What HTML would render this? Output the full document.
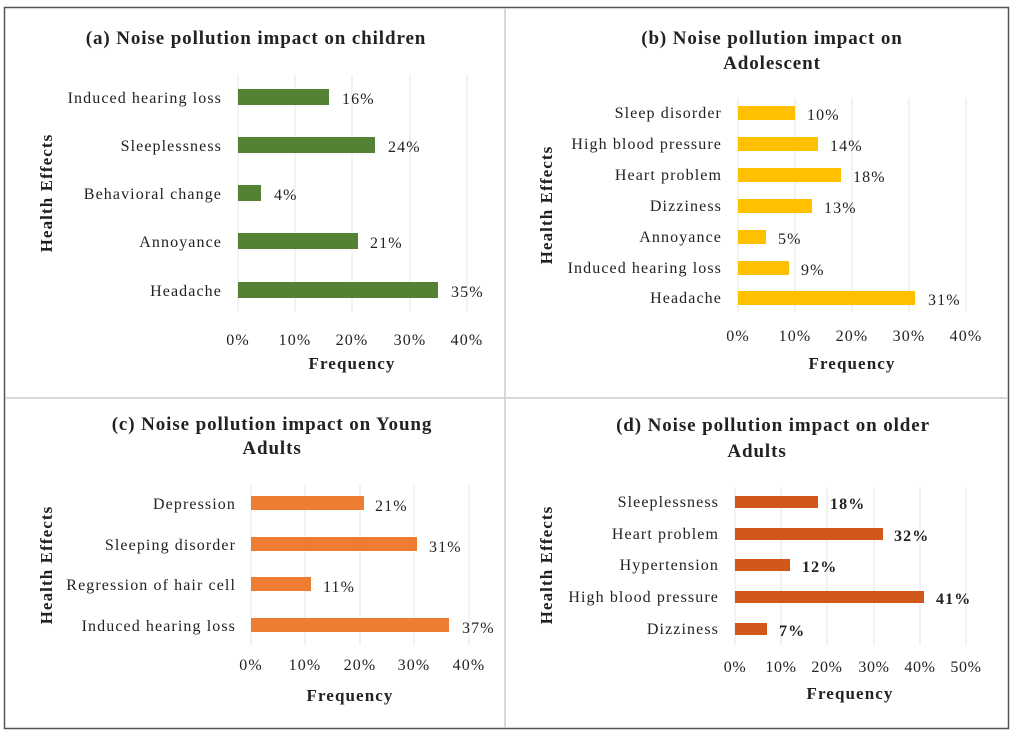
<!DOCTYPE html>
<html><head><style>body{margin:0;background:#fff}svg{display:block}text{font-family:"Liberation Serif",serif;fill:#222}</style></head><body>
<svg width="1013" height="739" xmlns="http://www.w3.org/2000/svg">
<rect x="0" y="0" width="1013" height="739" fill="#fff"/>
<rect x="4.5" y="7.5" width="1004" height="721" fill="none" stroke="#555" stroke-width="1.5"/>
<line x1="505" y1="8" x2="505" y2="728" stroke="#ccc" stroke-width="1.5"/>
<line x1="5" y1="398" x2="1008" y2="398" stroke="#ccc" stroke-width="1.5"/>
<g id="a" font-size="16" letter-spacing="1.1">
<text x="256" y="44" font-size="19" letter-spacing="0.9" font-weight="bold" text-anchor="middle">(a) Noise pollution  impact on children</text>
<g stroke="#e4e4e4"><line x1="238" y1="75" x2="238" y2="312"/><line x1="295" y1="75" x2="295" y2="312"/><line x1="352" y1="75" x2="352" y2="312"/><line x1="410" y1="75" x2="410" y2="312"/><line x1="467" y1="75" x2="467" y2="312"/></g>
<g fill="#548235"><rect x="238" y="89" width="91" height="16"/><rect x="238" y="137" width="137" height="16"/><rect x="238" y="185" width="23" height="16"/><rect x="238" y="233" width="120" height="16"/><rect x="238" y="282" width="200" height="16"/></g>
<g text-anchor="end"><text x="222" y="103">Induced hearing loss</text><text x="222" y="151">Sleeplessness</text><text x="222" y="199">Behavioral change</text><text x="222" y="247">Annoyance</text><text x="222" y="296">Headache</text></g>
<text x="342" y="104">16%</text><text x="388" y="152">24%</text><text x="274" y="200">4%</text><text x="370" y="248">21%</text><text x="451" y="297">35%</text>
<g text-anchor="middle"><text x="238" y="345">0%</text><text x="295" y="345">10%</text><text x="352" y="345">20%</text><text x="410" y="345">30%</text><text x="467" y="345">40%</text></g>
<text x="352" y="369" font-weight="bold" font-size="17" text-anchor="middle">Frequency</text>
<text transform="translate(52,193) rotate(-90)" font-weight="bold" font-size="17" text-anchor="middle">Health Effects</text>
</g>
<g id="b" font-size="16" letter-spacing="1.1">
<text x="772" y="44" font-size="19" letter-spacing="0.9" font-weight="bold" text-anchor="middle">(b) Noise pollution impact on</text>
<text x="772" y="69" font-size="19" letter-spacing="0.9" font-weight="bold" text-anchor="middle">Adolescent</text>
<g stroke="#e4e4e4"><line x1="738" y1="98" x2="738" y2="312"/><line x1="795" y1="98" x2="795" y2="312"/><line x1="852" y1="98" x2="852" y2="312"/><line x1="909" y1="98" x2="909" y2="312"/><line x1="966" y1="98" x2="966" y2="312"/></g>
<g fill="#ffc000"><rect x="738" y="106" width="57" height="14"/><rect x="738" y="137" width="80" height="14"/><rect x="738" y="168" width="103" height="14"/><rect x="738" y="199" width="74" height="14"/><rect x="738" y="230" width="28" height="14"/><rect x="738" y="261" width="51" height="14"/><rect x="738" y="291" width="177" height="14"/></g>
<g text-anchor="end"><text x="722" y="118">Sleep disorder</text><text x="722" y="149">High blood pressure</text><text x="722" y="180">Heart problem</text><text x="722" y="211">Dizziness</text><text x="722" y="242">Annoyance</text><text x="722" y="273">Induced hearing loss</text><text x="722" y="303">Headache</text></g>
<text x="807" y="120">10%</text><text x="830" y="151">14%</text><text x="853" y="182">18%</text><text x="824" y="213">13%</text><text x="778" y="244">5%</text><text x="801" y="275">9%</text><text x="928" y="305">31%</text>
<g text-anchor="middle"><text x="738" y="341">0%</text><text x="795" y="341">10%</text><text x="852" y="341">20%</text><text x="909" y="341">30%</text><text x="966" y="341">40%</text></g>
<text x="852" y="369" font-weight="bold" font-size="17" text-anchor="middle">Frequency</text>
<text transform="translate(552,205) rotate(-90)" font-weight="bold" font-size="17" text-anchor="middle">Health Effects</text>
</g>
<g id="c" font-size="16" letter-spacing="1.1">
<text x="272" y="430" font-size="19" letter-spacing="0.9" font-weight="bold" text-anchor="middle">(c) Noise pollution  impact on Young</text>
<text x="272" y="454" font-size="19" letter-spacing="0.9" font-weight="bold" text-anchor="middle">Adults</text>
<g stroke="#e4e4e4"><line x1="251" y1="485" x2="251" y2="645"/><line x1="305" y1="485" x2="305" y2="645"/><line x1="360" y1="485" x2="360" y2="645"/><line x1="414" y1="485" x2="414" y2="645"/><line x1="469" y1="485" x2="469" y2="645"/></g>
<g fill="#ed7d31"><rect x="251" y="496" width="113" height="14"/><rect x="251" y="537" width="166" height="14"/><rect x="251" y="577" width="60" height="14"/><rect x="251" y="618" width="198" height="14"/></g>
<g text-anchor="end"><text x="236" y="509">Depression</text><text x="236" y="550">Sleeping disorder</text><text x="236" y="590">Regression of hair cell</text><text x="236" y="631">Induced hearing loss</text></g>
<text x="375" y="511">21%</text><text x="429" y="552">31%</text><text x="323" y="592">11%</text><text x="462" y="633">37%</text>
<g text-anchor="middle"><text x="251" y="670">0%</text><text x="305" y="670">10%</text><text x="360" y="670">20%</text><text x="414" y="670">30%</text><text x="469" y="670">40%</text></g>
<text x="350" y="701" font-weight="bold" font-size="17" text-anchor="middle">Frequency</text>
<text transform="translate(52,565) rotate(-90)" font-weight="bold" font-size="17" text-anchor="middle">Health Effects</text>
</g>
<g id="d" font-size="16" letter-spacing="1.1">
<text x="773" y="431" font-size="19" letter-spacing="0.9" font-weight="bold" text-anchor="middle">(d) Noise pollution impact on older</text>
<text x="757" y="457" font-size="19" letter-spacing="0.9" font-weight="bold" text-anchor="middle">Adults</text>
<g stroke="#e4e4e4"><line x1="735" y1="487" x2="735" y2="645"/><line x1="781" y1="487" x2="781" y2="645"/><line x1="827" y1="487" x2="827" y2="645"/><line x1="874" y1="487" x2="874" y2="645"/><line x1="920" y1="487" x2="920" y2="645"/><line x1="966" y1="487" x2="966" y2="645"/></g>
<g fill="#d1581a"><rect x="735" y="496" width="83" height="12"/><rect x="735" y="528" width="148" height="12"/><rect x="735" y="559" width="55" height="12"/><rect x="735" y="591" width="189" height="12"/><rect x="735" y="623" width="32" height="12"/></g>
<g text-anchor="end"><text x="719" y="507">Sleeplessness</text><text x="719" y="539">Heart problem</text><text x="719" y="570">Hypertension</text><text x="719" y="602">High blood pressure</text><text x="719" y="634">Dizziness</text></g>
<g font-weight="bold"><text x="830" y="509">18%</text><text x="894" y="541">32%</text><text x="802" y="572">12%</text><text x="936" y="604">41%</text><text x="779" y="636">7%</text></g>
<g text-anchor="middle" letter-spacing="0.6"><text x="735" y="672">0%</text><text x="781" y="672">10%</text><text x="827" y="672">20%</text><text x="874" y="672">30%</text><text x="920" y="672">40%</text><text x="966" y="672">50%</text></g>
<text x="850" y="699" font-weight="bold" font-size="17" text-anchor="middle">Frequency</text>
<text transform="translate(552,565) rotate(-90)" font-weight="bold" font-size="17" text-anchor="middle">Health Effects</text>
</g>
</svg>
</body></html>
